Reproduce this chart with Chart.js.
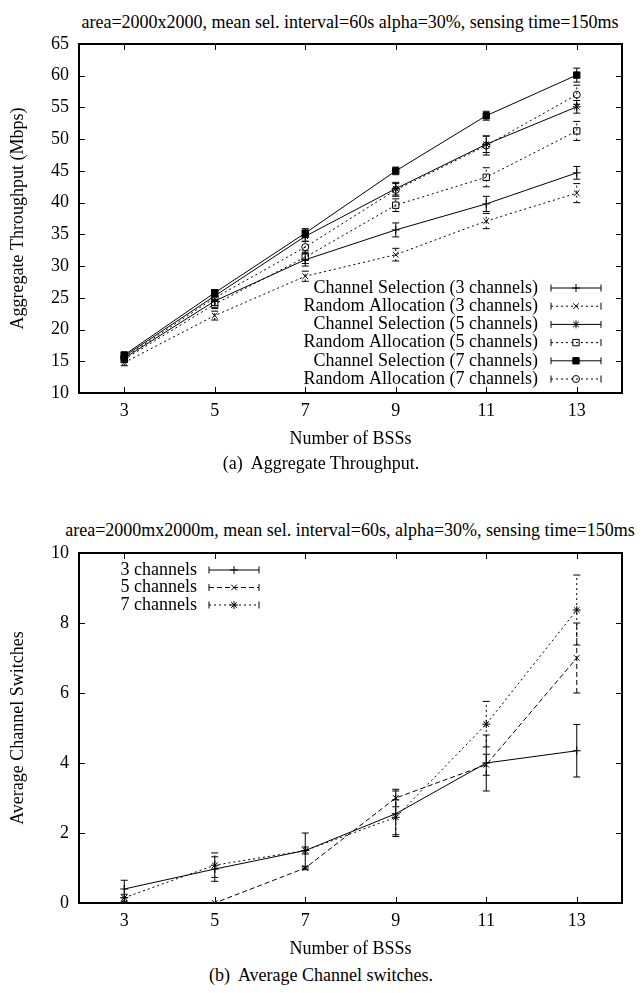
<!DOCTYPE html>
<html><head><meta charset="utf-8">
<script src="https://cdn.jsdelivr.net/npm/chart.js@4/dist/chart.umd.min.js"></script>
<style>
body{margin:0;background:#fff;width:642px;height:993px;position:relative;overflow:hidden;font-family:"Liberation Serif","Times New Roman",serif;color:#000}
.t{position:absolute;white-space:nowrap;font-size:18px;text-align:center;line-height:20px}
.w{position:absolute;left:0;width:642px}
canvas{display:block}
</style></head><body>
<div class="t" style="left:-50px;width:800px;top:12px">area=2000x2000, mean sel. interval=60s alpha=30%, sensing time=150ms</div>
<div class="w" style="top:0;height:455px"><canvas id="c1" width="642" height="455"></canvas></div>
<div class="t" style="left:0;width:642px;top:453px">(a)&nbsp; Aggregate Throughput.</div>
<div class="t" style="left:-50px;width:800px;top:520px">area=2000mx2000m, mean sel. interval=60s, alpha=30%, sensing time=150ms</div>
<div class="w" style="top:490px;height:475px"><canvas id="c2" width="642" height="475"></canvas></div>
<div class="t" style="left:0;width:642px;top:965px">(b)&nbsp; Average Channel switches.</div>
<script>
// ---------- data ----------
const numBSS = [3, 5, 7, 9, 11, 13];
const xTickValues = [3, 5, 7, 9, 11, 13];
const throughputTicks = [10, 15, 20, 25, 30, 35, 40, 45, 50, 55, 60, 65];
const switchTicks = [0, 2, 4, 6, 8, 10];

const chanSel3 = [15.5, 24.5, 31.0, 35.7, 39.8, 44.7];
const chanSel3Err = [0.5, 0.7, 1.0, 1.1, 1.2, 1.0];
const randAlloc3 = [14.8, 22.2, 28.4, 31.8, 37.1, 41.5];
const randAlloc3Err = [0.5, 0.7, 0.8, 1.0, 1.2, 1.5];
const chanSel5 = [15.8, 25.3, 34.7, 42.2, 49.2, 55.1];
const chanSel5Err = [0.5, 0.6, 0.8, 1.0, 1.3, 1.0];
const randAlloc5 = [15.3, 24.0, 31.4, 39.6, 44.0, 51.3];
const randAlloc5Err = [0.5, 0.7, 1.0, 1.0, 1.5, 1.5];
const chanSel7 = [16.0, 25.8, 35.2, 45.0, 53.7, 60.1];
const chanSel7Err = [0.4, 0.5, 0.7, 0.6, 0.7, 1.1];
const randAlloc7 = [15.6, 25.0, 33.0, 42.0, 49.0, 57.0];
const randAlloc7Err = [0.5, 0.6, 0.9, 1.0, 1.5, 1.5];

const switches3 = [0.40, 0.97, 1.50, 2.55, 4.00, 4.35];
const switches3Err = [0.25, 0.35, 0.50, 0.65, 0.80, 0.75];
const switches5 = [0.00, 0.00, 1.00, 3.00, 3.95, 7.00];
const switches5Err = [0.00, 0.00, 0.05, 0.25, 0.30, 1.00];
const switches7 = [0.15, 1.08, 1.50, 2.45, 5.11, 8.37];
const switches7Err = [0.10, 0.35, 0.10, 0.50, 0.65, 1.00];

// ---------- helpers ----------
const FAMILY = "'Liberation Serif','Times New Roman',serif";
const FONT = {family: FAMILY, size: 18, lineHeight: 1.2};
const DOT = [2, 3];
const DASH = [5, 3];
const pts = arr => numBSS.map((x, i) => ({x: x, y: arr[i]}));

function mkSet(label, arr, err, style, dash, radius, filled) {
  return {
    label: label, data: pts(arr), errorBars: err,
    borderColor: '#000', borderWidth: 1, borderDash: dash,
    pointStyle: style, pointRadius: radius, pointBorderWidth: 1,
    pointBorderColor: '#000',
    pointBackgroundColor: filled ? '#000' : 'rgba(0,0,0,0)',
    fill: false, tension: 0
  };
}

const framePlugin = {
  id: 'frame',
  afterDraw(chart) {
    const {ctx, chartArea: a} = chart;
    const xs = chart.scales.x, ys = chart.scales.y;
    ctx.save();
    ctx.setLineDash([]);
    ctx.strokeStyle = '#000';
    ctx.lineWidth = 2;
    ctx.strokeRect(a.left, a.top, a.right - a.left, a.bottom - a.top);
    ctx.lineWidth = 1;
    const L = 6;
    ctx.beginPath();
    xs.ticks.forEach(t => {
      const p = Math.round(xs.getPixelForValue(t.value)) + 0.5;
      ctx.moveTo(p, a.bottom); ctx.lineTo(p, a.bottom - L);
      ctx.moveTo(p, a.top); ctx.lineTo(p, a.top + L);
    });
    ys.ticks.forEach(t => {
      const p = Math.round(ys.getPixelForValue(t.value)) + 0.5;
      ctx.moveTo(a.left, p); ctx.lineTo(a.left + L, p);
      ctx.moveTo(a.right, p); ctx.lineTo(a.right - L, p);
    });
    ctx.stroke();
    ctx.restore();
  }
};

const errorBarPlugin = {
  id: 'errbars',
  afterDatasetsDraw(chart) {
    const {ctx} = chart;
    const xs = chart.scales.x, ys = chart.scales.y;
    chart.data.datasets.forEach(ds => {
      ctx.save();
      ctx.strokeStyle = '#000';
      ctx.lineWidth = 1;
      ds.data.forEach((p, i) => {
        const e = ds.errorBars[i];
        if (!e) return;
        const px = xs.getPixelForValue(p.x);
        const y1 = ys.getPixelForValue(p.y + e), y0 = ys.getPixelForValue(p.y - e);
        ctx.setLineDash(ds.borderDash || []);
        ctx.beginPath(); ctx.moveTo(px, y0); ctx.lineTo(px, y1); ctx.stroke();
        ctx.setLineDash([]);
        ctx.beginPath();
        ctx.moveTo(px - 3.5, y0); ctx.lineTo(px + 3.5, y0);
        ctx.moveTo(px - 3.5, y1); ctx.lineTo(px + 3.5, y1);
        ctx.stroke();
      });
      ctx.restore();
    });
  }
};

const keyPlugin = {
  id: 'gnuKey',
  afterDraw(chart, args, o) {
    const {ctx, chartArea: a} = chart;
    ctx.save();
    ctx.font = '18px ' + FAMILY;
    ctx.textAlign = 'right';
    ctx.textBaseline = 'middle';
    const tr = o.fromRight ? a.right - o.dx : a.left + o.dx;
    chart.data.datasets.forEach((ds, i) => {
      const yy = (o.fromBottom ? a.bottom - o.dy : a.top + o.dy) + i * o.gap;
      ctx.fillStyle = '#000';
      ctx.fillText(ds.label, tr, yy);
      const s0 = tr + o.gapText, s1 = s0 + o.sample;
      ctx.strokeStyle = '#000';
      ctx.lineWidth = 1;
      ctx.setLineDash(ds.borderDash || []);
      ctx.beginPath(); ctx.moveTo(s0, yy); ctx.lineTo(s1, yy); ctx.stroke();
      ctx.setLineDash([]);
      ctx.beginPath();
      ctx.moveTo(s0, yy - 3.5); ctx.lineTo(s0, yy + 3.5);
      ctx.moveTo(s1, yy - 3.5); ctx.lineTo(s1, yy + 3.5);
      ctx.stroke();
      ctx.fillStyle = ds.pointBackgroundColor;
      Chart.helpers.drawPoint(ctx, {pointStyle: ds.pointStyle, radius: ds.pointRadius, rotation: 0, borderWidth: 1}, (s0 + s1) / 2, yy);
    });
    ctx.restore();
  }
};

function makeOptions(yMin, yMax, yTickList, yTitle, padTop, keyOpts) {
  return {
    responsive: false, animation: false, devicePixelRatio: 1,
    layout: {padding: {top: padTop, left: 0, right: 20, bottom: 0}},
    plugins: {legend: {display: false}, tooltip: {enabled: false}, title: {display: false}, gnuKey: keyOpts},
    scales: {
      x: {
        type: 'linear', min: 2, max: 14,
        afterBuildTicks: s => { s.ticks = xTickValues.map(v => ({value: v})); },
        afterFit: s => { s.height = 62; },
        grid: {display: false, drawTicks: false}, border: {display: false},
        ticks: {font: FONT, color: '#000', padding: 7, maxRotation: 0, autoSkip: false},
        title: {display: true, text: 'Number of BSSs', font: FONT, color: '#000', padding: {top: 0, bottom: 5}}
      },
      y: {
        type: 'linear', min: yMin, max: yMax,
        afterBuildTicks: s => { s.ticks = yTickList.map(v => ({value: v})); },
        afterFit: s => { s.width = 79; },
        grid: {display: false, drawTicks: false}, border: {display: false},
        ticks: {font: FONT, color: '#000', padding: 10},
        title: {display: true, text: yTitle, font: FONT, color: '#000', padding: {top: 7, bottom: 0}}
      }
    }
  };
}

new Chart(document.getElementById('c1'), {
  type: 'line',
  data: {datasets: [
    mkSet('Channel Selection (3 channels)', chanSel3, chanSel3Err, 'cross', [], 4, false),
    mkSet('Random Allocation (3 channels)', randAlloc3, randAlloc3Err, 'crossRot', DOT, 4, false),
    mkSet('Channel Selection (5 channels)', chanSel5, chanSel5Err, 'star', [], 4, false),
    mkSet('Random Allocation (5 channels)', randAlloc5, randAlloc5Err, 'rect', DOT, 4.5, false),
    mkSet('Channel Selection (7 channels)', chanSel7, chanSel7Err, 'rect', [], 4.5, true),
    mkSet('Random Allocation (7 channels)', randAlloc7, randAlloc7Err, 'circle', DOT, 3.5, false)
  ]},
  options: makeOptions(10, 65, throughputTicks, 'Aggregate Throughput (Mbps)', 44,
    {fromRight: true, dx: 84, fromBottom: true, dy: 105, gap: 18.2, gapText: 13, sample: 50}),
  plugins: [errorBarPlugin, framePlugin, keyPlugin]
});

new Chart(document.getElementById('c2'), {
  type: 'line',
  data: {datasets: [
    mkSet('3 channels', switches3, switches3Err, 'cross', [], 4, false),
    mkSet('5 channels', switches5, switches5Err, 'crossRot', DASH, 4, false),
    mkSet('7 channels', switches7, switches7Err, 'star', DOT, 4, false)
  ]},
  options: makeOptions(0, 10, switchTicks, 'Average Channel Switches', 63,
    {fromRight: false, dx: 118, fromBottom: false, dy: 17, gap: 17.5, gapText: 12, sample: 50}),
  plugins: [errorBarPlugin, framePlugin, keyPlugin]
});
</script>
</body></html>
